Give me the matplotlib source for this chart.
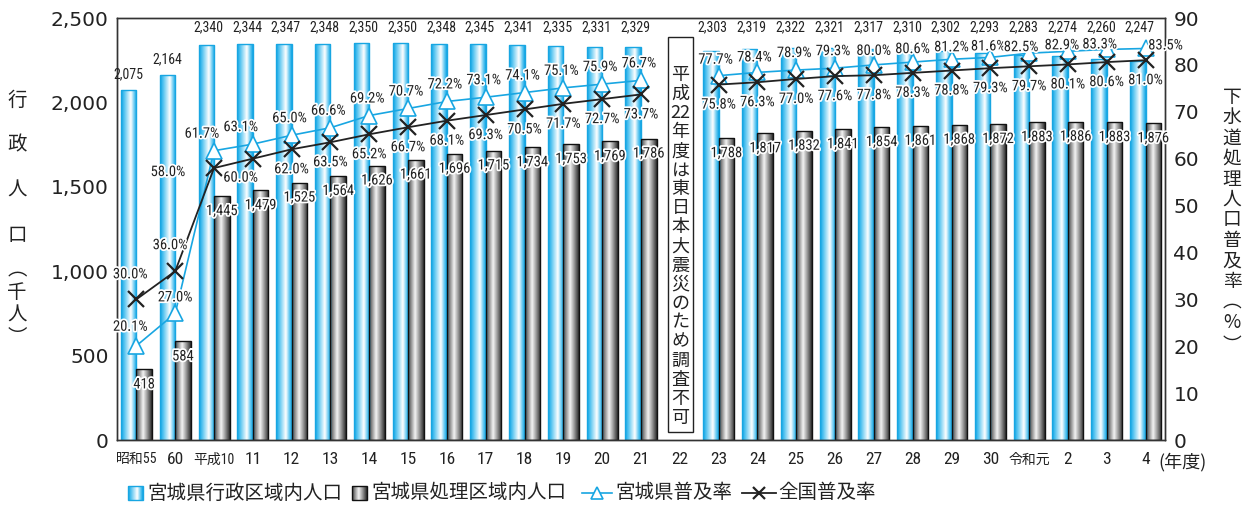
import numpy as np
import matplotlib
matplotlib.use('Agg')
import matplotlib.pyplot as plt
from matplotlib import font_manager
from matplotlib.colors import LinearSegmentedColormap
import matplotlib.patheffects as pe
import matplotlib.transforms as mtransforms
from matplotlib.patches import Rectangle
from matplotlib.lines import Line2D
from matplotlib.ticker import FuncFormatter

# ---------------- data ----------------
years = ['昭和55', '60', '平成10', '11', '12', '13', '14', '15', '16', '17', '18', '19', '20', '21',
         '22', '23', '24', '25', '26', '27', '28', '29', '30', '令和元', '2', '3', '4']
admin_pop = [2075, 2164, 2340, 2344, 2347, 2348, 2350, 2350, 2348, 2345, 2341, 2335, 2331, 2329,
             None, 2303, 2319, 2322, 2321, 2317, 2310, 2302, 2293, 2283, 2274, 2260, 2247]
treated_pop = [418, 584, 1445, 1479, 1525, 1564, 1626, 1661, 1696, 1715, 1734, 1753, 1769, 1786,
               None, 1788, 1817, 1832, 1841, 1854, 1861, 1868, 1872, 1883, 1886, 1883, 1876]
miyagi_rate = [20.1, 27.0, 61.7, 63.1, 65.0, 66.6, 69.2, 70.7, 72.2, 73.1, 74.1, 75.1, 75.9, 76.7,
               None, 77.7, 78.4, 78.9, 79.3, 80.0, 80.6, 81.2, 81.6, 82.5, 82.9, 83.3, 83.5]
national_rate = [30.0, 36.0, 58.0, 60.0, 62.0, 63.5, 65.2, 66.7, 68.1, 69.3, 70.5, 71.7, 72.7, 73.7,
                 None, 75.8, 76.3, 77.0, 77.6, 77.8, 78.3, 78.8, 79.3, 79.7, 80.1, 80.6, 81.0]
legend_labels = ['宮城県行政区域内人口', '宮城県処理区域内人口', '宮城県普及率', '全国普及率']
note_text = ['平', '成', '22', '年', '度', 'は', '東', '日', '本', '大', '震', '災', 'の', 'た', 'め', '調', '査', '不', '可']

def arr(v):
    return np.array([np.nan if a is None else a for a in v], dtype=float)

admin = arr(admin_pop)
treated = arr(treated_pop)
miyagi = arr(miyagi_rate)
national = arr(national_rate)
x = np.arange(len(years))

# ---------------- fonts ----------------
names = {f.name for f in font_manager.fontManager.ttflist}
NARROW = None
for cand in ['Liberation Sans Narrow', 'Roboto Condensed', 'Open Sans Condensed', 'Liberation Sans']:
    if cand in names:
        NARROW = cand
        break
JP = 'Noto Sans CJK JP'
plt.rcParams['font.family'] = [NARROW, JP, 'DejaVu Sans']
NUMF = [NARROW, JP, 'DejaVu Sans']
JPF = [JP, 'DejaVu Sans']

CYAN = '#18a6e2'
TXT = '#222222'

# ---------------- figure ----------------
W, H = 1248, 509
fig = plt.figure(figsize=(W / 100, H / 100), dpi=100)
L, R, T, B = 117, 1165, 18, 440
ax = fig.add_axes([L / W, 1 - B / H, (R - L) / W, (B - T) / H])
ax2 = ax.twinx()

bw = 0.40
blue_bars = ax.bar(x - bw / 2, np.nan_to_num(admin), bw, color='none', edgecolor='none', zorder=2)
gray_bars = ax.bar(x + bw / 2, np.nan_to_num(treated), bw, color='none', edgecolor='none', zorder=2)

blue_cmap = LinearSegmentedColormap.from_list(
    'b', [(0, '#0ea4e4'), (0.18, '#4cc0ef'), (0.62, '#ffffff'), (0.85, '#62c8f1'), (1, '#0ea4e4')])
gray_cmap = LinearSegmentedColormap.from_list(
    'g', [(0, '#3c3c3c'), (0.18, '#8c8c8c'), (0.45, '#f4f4f4'), (0.75, '#8a8a8a'), (1, '#2c2c2c')])
grad = np.linspace(0, 1, 64).reshape(1, -1)

for bars, cmap, ec in [(blue_bars, blue_cmap, CYAN), (gray_bars, gray_cmap, '#111111')]:
    for p in bars:
        h = p.get_height()
        if not np.isfinite(h) or h <= 0:
            continue
        x0, w0 = p.get_x(), p.get_width()
        im = ax.imshow(grad, extent=[x0, x0 + w0, 0, h], aspect='auto', cmap=cmap,
                       zorder=2, interpolation='bilinear')
        im.set_clip_path(p)
        ax.add_patch(Rectangle((x0, 0), w0, h, fill=False, edgecolor=ec, linewidth=1.0, zorder=2.5))

ax.set_xlim(-0.5, len(years) - 0.5)
ax.set_ylim(0, 2500)
ax.set_yticks(np.arange(0, 2501, 500))
ax.yaxis.set_major_formatter(FuncFormatter(lambda v, p: f'{int(v):,}'))
ax2.set_ylim(0, 90)
ax2.set_yticks(np.arange(0, 91, 10))
for a in (ax, ax2):
    for s in a.spines.values():
        s.set_color('#333333')
        s.set_linewidth(1.0)
ax.tick_params(axis='y', length=0, pad=6, labelsize=14.5, labelcolor=TXT)
ax2.tick_params(axis='y', length=0, pad=6, labelsize=14.5, labelcolor=TXT)
for t in ax.get_yticklabels() + ax2.get_yticklabels():
    t.set_family('DejaVu Sans')
ax.set_xticks(x)
ax.set_xticklabels(years)
ax.tick_params(axis='x', length=0, pad=9, labelsize=12.5, labelcolor=TXT)
for t in ax.get_xticklabels():
    if any(ord(c) > 127 for c in t.get_text()):
        t.set_fontsize(10)

# ---------------- lines ----------------
ax2.plot(x, miyagi, color=CYAN, lw=1.2, marker='^', ms=11, mfc='white', mec=CYAN, mew=1.2, zorder=4)
ax2.plot(x, national, color=TXT, lw=1.3, marker='x', ms=12, mec=TXT, mew=1.6, zorder=4)
ax2.set_xlim(-0.5, len(years) - 0.5)

stroke = [pe.withStroke(linewidth=2.5, foreground='white')]
PX = 72 / 100.0

# bar labels
top_tr = mtransforms.blended_transform_factory(ax.transData, ax.transAxes)
for i, v in enumerate(admin):
    if not np.isfinite(v):
        continue
    if i < 2:
        ax2.annotate(f'{int(v):,}', (x[i] - bw / 2, v), xycoords=ax.transData,
                     xytext=(0, 15 * PX), textcoords='offset points', ha='center', va='center',
                     fontsize=10, family=NUMF, color=TXT, zorder=6)
    else:
        ax2.text(x[i] - bw / 2 + 0.05, 0.978, f'{int(v):,}', transform=top_tr, ha='center', va='center',
                 fontsize=10, family=NUMF, color=TXT, zorder=6)
for i, v in enumerate(treated):
    if not np.isfinite(v):
        continue
    ax2.annotate(f'{int(v):,}', (x[i] + bw / 2, v), xycoords=ax.transData,
                 xytext=(0, -15 * PX), textcoords='offset points', ha='center', va='center',
                 fontsize=10.5, family=NUMF, color=TXT, zorder=6, path_effects=stroke)

# percent labels (offsets in pixels: dx, dy up)
m_off = {0: (-6, 19), 1: (0, 16), 2: (-12, 17), 3: (-12, 17), 15: (-3, 16), 16: (-3, 15),
         19: (0, 14), 20: (0, 13), 21: (0, 12), 22: (-2, 11),
         23: (-8, 6), 24: (-6, 6), 25: (-7, 5), 26: (20, 3)}
n_off = {0: (-6, 25), 1: (-5, 26), 2: (-46, -4), 3: (-12, -19)}
for i, v in enumerate(miyagi):
    if not np.isfinite(v):
        continue
    dx, dy = m_off.get(i, (-2, 17))
    ax2.annotate(f'{v:.1f}%', (x[i], v), xytext=(dx * PX, dy * PX), textcoords='offset points',
                 ha='center', va='center', fontsize=10.5, family=NUMF, color=TXT,
                 zorder=7, path_effects=stroke)
for i, v in enumerate(national):
    if not np.isfinite(v):
        continue
    dx, dy = n_off.get(i, (0, -20))
    ax2.annotate(f'{v:.1f}%', (x[i], v), xytext=(dx * PX, dy * PX), textcoords='offset points',
                 ha='center', va='center', fontsize=10.5, family=NUMF, color=TXT,
                 zorder=7, path_effects=stroke)

# ---------------- overlay (pixel coordinates) ----------------
lax = fig.add_axes([0, 0, 1, 1])
lax.set_xlim(0, W)
lax.set_ylim(H, 0)
lax.axis('off')
lax.patch.set_visible(False)

# note box for H22
lax.add_patch(Rectangle((668, 37), 25, 395, facecolor='white', edgecolor=TXT, lw=1.0, zorder=5))
for k, ch in enumerate(note_text):
    lax.text(680.5, 75 + k * 19.05, ch, ha='center', va='center', fontsize=13,
             family=JPF, color=TXT, zorder=6)

# left axis title
left_chars = [('行', 100), ('政', 145), ('人', 190), ('口', 235), ('︵', 270), ('千', 292), ('人', 315), ('︶', 337)]
for ch, yy in left_chars:
    lax.text(17, yy, ch, ha='center', va='center', fontsize=14, family=JPF, color=TXT)
# right axis title
right_chars = list('下水道処理人口普及率')
for k, ch in enumerate(right_chars):
    lax.text(1232, 97 + k * 20.5, ch, ha='center', va='center', fontsize=13.5, family=JPF, color=TXT)
for ch, yy in [('︵', 301), ('%', 323), ('︶', 345)]:
    lax.text(1232, yy, ch, ha='center', va='center', fontsize=13.5, family=JPF, color=TXT)

# (年度)
lax.text(1158, 462, '(年度)', ha='left', va='center', fontsize=13, family=JPF, color=TXT)

# legend
LY = 493
def grad_square(x0, cmap, ec):
    lax.imshow(grad, extent=[x0, x0 + 15, LY + 7, LY - 7], aspect='auto', cmap=cmap, zorder=5)
    lax.add_patch(Rectangle((x0, LY - 7), 15, 14, fill=False, edgecolor=ec, lw=1.0, zorder=6))

grad_square(128, blue_cmap, CYAN)
lax.text(147, LY, legend_labels[0], ha='left', va='center', fontsize=14, family=JPF, color=TXT)
grad_square(352, gray_cmap, '#111111')
lax.text(371, LY, legend_labels[1], ha='left', va='center', fontsize=14, family=JPF, color=TXT)
lax.add_line(Line2D([582, 612], [LY, LY], color=CYAN, lw=1.2))
lax.add_line(Line2D([597], [LY], color=CYAN, marker='^', ms=9, mfc='white', mec=CYAN, mew=1.2))
lax.text(615, LY, legend_labels[2], ha='left', va='center', fontsize=14, family=JPF, color=TXT)
lax.add_line(Line2D([742, 776], [LY, LY], color=TXT, lw=1.3))
lax.add_line(Line2D([759], [LY], color=TXT, marker='x', ms=9, mew=1.6))
lax.text(778, LY, legend_labels[3], ha='left', va='center', fontsize=14, family=JPF, color=TXT)
lax.set_xlim(0, W)
lax.set_ylim(H, 0)

fig.savefig('out.png', dpi=100, facecolor='white')
